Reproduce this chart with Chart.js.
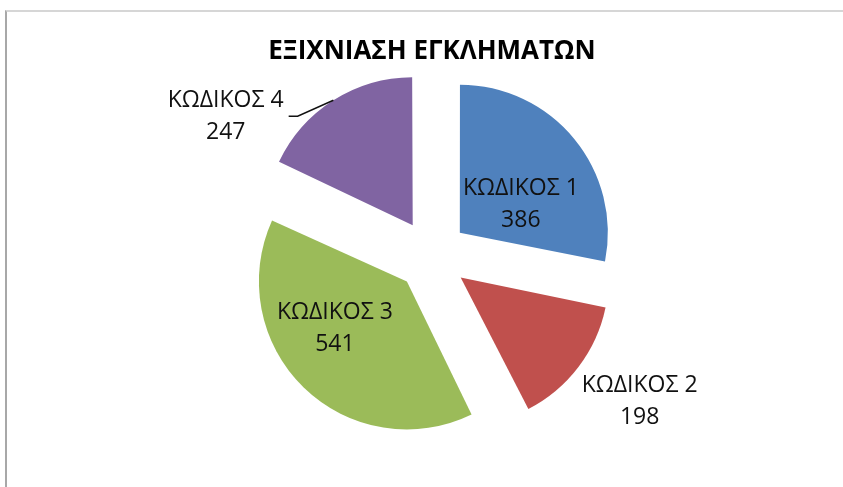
<!DOCTYPE html>
<html>
<head>
  <meta charset="UTF-8">
  <title>ΕΞΙΧΝΙΑΣΗ ΕΓΚΛΗΜΑΤΩΝ</title>
  <script src="https://cdn.jsdelivr.net/npm/chart.js"></script>
  <style>
    html, body { margin: 0; padding: 0; background: #fff; overflow: hidden; }
    .frame { position: absolute; left: 5px; top: 10px; width: 838px; height: 477px;
             border-top: 2px solid #d6d6d6; border-left: 2px solid #a8a8a8; box-sizing: border-box; }
    .chart-container { position: absolute; left: 0; top: 0; width: 843px; height: 487px; }
  </style>
</head>
<body>
  <div class="frame"></div>
  <div class="chart-container">
    <canvas id="crimeChart"></canvas>
  </div>

  <script>
    const categories = ['ΚΩΔΙΚΟΣ 1', 'ΚΩΔΙΚΟΣ 2', 'ΚΩΔΙΚΟΣ 3', 'ΚΩΔΙΚΟΣ 4'];
    const cases = [386, 198, 541, 247];
    const sliceColors = ['#4F81BD', '#C0504D', '#9BBB59', '#8064A2'];

    const EXPLODE = 36; // how far each slice is pulled out, px
    // label centre measured from the tip of its slice
    const labelNudge = [[61, -28], [179, 124], [-72, 47], [-187, -109]];

    const sliceLabels = {
      id: 'sliceLabels',
      beforeDatasetDraw(chart) {
        // chart.js makes exploded slices a bit bigger, keep them all the same radius
        const meta = chart.getDatasetMeta(0);
        const R = meta.controller.outerRadius;
        meta.data.forEach(arc => {
          const circ = arc.endAngle - arc.startAngle;
          const fix = 1 - Math.sin(Math.min(Math.PI, circ));
          arc.outerRadius = R - EXPLODE * fix;
        });
      },
      afterDatasetsDraw(chart) {
        const meta = chart.getDatasetMeta(0);
        const R = meta.controller.outerRadius;
        const ctx = chart.ctx;
        ctx.save();
        ctx.font = '23px "Open Sans"';
        ctx.fillStyle = '#111';
        ctx.strokeStyle = '#111';
        ctx.textAlign = 'center';
        ctx.textBaseline = 'middle';
        meta.data.forEach((arc, i) => {
          const mid = (arc.startAngle + arc.endAngle) / 2;
          const tipX = arc.x + Math.cos(mid) * EXPLODE;
          const tipY = arc.y + Math.sin(mid) * EXPLODE;
          const lx = tipX + labelNudge[i][0];
          const ly = tipY + labelNudge[i][1];
          ctx.fillText(categories[i], lx, ly - 16);
          ctx.fillText(String(cases[i]), lx, ly + 16);
          if (i === 3) {
            // leader line from the label to the slice edge
            const w = ctx.measureText(categories[i]).width;
            const sx = lx + w / 2 + 5, sy = ly;
            ctx.lineWidth = 1.5;
            ctx.beginPath();
            ctx.moveTo(sx, sy);
            ctx.lineTo(sx + 9, sy);
            ctx.lineTo(tipX + Math.cos(mid) * R, tipY + Math.sin(mid) * R);
            ctx.stroke();
          }
        });
        ctx.restore();
      }
    };

    const ctx = document.getElementById('crimeChart').getContext('2d');
    const crimeChart = new Chart(ctx, {
      type: 'pie',
      data: {
        labels: categories,
        datasets: [{
          data: cases,
          backgroundColor: sliceColors,
          borderWidth: 0,
          offset: EXPLODE * 4
        }]
      },
      options: {
        responsive: true,
        maintainAspectRatio: false,
        animation: false,
        radius: 148,
        layout: { padding: { left: 21, right: 0, top: 36, bottom: 43 } },
        plugins: {
          legend: { display: false },
          tooltip: { enabled: false },
          title: {
            display: true,
            text: 'ΕΞΙΧΝΙΑΣΗ ΕΓΚΛΗΜΑΤΩΝ',
            color: '#000',
            font: { family: 'Open Sans', size: 26, weight: 'bold' },
            padding: { top: 0, bottom: 0 }
          }
        }
      },
      plugins: [sliceLabels]
    });
  </script>
</body>
</html>
